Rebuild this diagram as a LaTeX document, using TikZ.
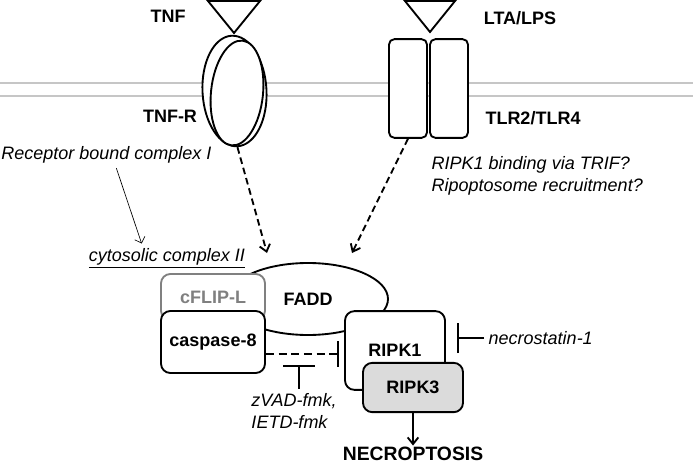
\documentclass[tikz,border=0pt]{standalone}
\usepackage{fontspec}
\setmainfont{Liberation Sans}
\usetikzlibrary{arrows.meta,shapes.geometric}
\begin{document}
\begin{tikzpicture}[x=0.75pt,y=-0.75pt,
  every node/.style={font=\fontsize{13.5}{16.5}\selectfont},
  lbl/.style={font=\fontsize{13.5}{16.5}\selectfont\bfseries},
  note/.style={font=\fontsize{13.5}{16.5}\selectfont\itshape},
  box/.style={draw,line width=1.4pt,rounded corners=7pt,fill=white,inner sep=0pt,font=\fontsize{13.5}{16.5}\selectfont\bfseries},
  rec/.style={draw,ellipse,line width=1.4pt,fill=white,inner sep=0pt},
  mem/.style={draw=gray!45,line width=1.5pt},
  dsh/.style={line width=1.4pt,dash pattern=on 5pt off 3pt,-{Straight Barb[length=5pt,width=8pt]}},
  blk/.style={line width=1.4pt}]
\useasboundingbox (0,0) rectangle (693,464);
% membrane
\draw[mem] (0,83) -- (693,83);
\draw[mem] (0,96) -- (693,96);
% ligands
\draw[blk,fill=white] (208,1) -- (260,1) -- (234,33) -- cycle;
\draw[blk,fill=white] (405,1) -- (455,1) -- (430,32) -- cycle;
\node[lbl] (tnf) at (168,16) {TNF};
\node[lbl] (lta) at (520,18) {LTA/LPS};
% receptors
\node[rec,minimum width=48pt,minimum height=83pt,rotate=3] (tnfr) at (234.5,91) {};
\node[rec,minimum width=39pt,minimum height=79pt,rotate=-6] (tnfr2) at (237,93) {};
\node[lbl] (tnfrlbl) at (170,116) {TNF-R};
\node[box,rounded corners=4pt,minimum width=28.5pt,minimum height=74pt] (tlr2) at (408,88.5) {};
\node[box,rounded corners=4pt,minimum width=28.5pt,minimum height=74pt] (tlr4) at (449,88.5) {};
\node[lbl] (tlr) at (533,118) {TLR2/TLR4};
% notes
\node[note,inner xsep=0pt,anchor=west] (rbc) at (1,155) {Receptor bound complex I};
\node[note,align=left,anchor=west] (trif) at (427,176) {RIPK1 binding via TRIF?\\Ripoptosome recruitment?};
\node[note] (cyto) at (167,258) {\underline{cytosolic complex II}};
% complex II
\node[rec,minimum width=120pt,minimum height=54pt,font=\fontsize{13.5}{16.5}\selectfont\bfseries] (fadd) at (308,299) {FADD};
\node[box,draw=gray,text=gray,minimum width=78pt,minimum height=34.5pt] (cflip) at (213,297) {cFLIP-L};
\node[box,minimum width=78pt,minimum height=46.5pt] (casp) at (213,342) {caspase-8};
\node[box,minimum width=75pt,minimum height=59pt] (ripk1) at (395,350.5) {RIPK1};
\node[box,fill=gray!28,minimum width=75pt,minimum height=37pt] (ripk3) at (413,387.5) {RIPK3};
\node[lbl,font=\fontsize{14.5}{17}\selectfont\bfseries,inner sep=1pt] (necro) at (413,454) {NECROPTOSIS};
% inhibitors
\node[note,align=left] (zvad) at (294,411) {zVAD-fmk,\\IETD-fmk};
\node[note,anchor=west] (nec1) at (484,338) {necrostatin-1};
\coordinate (fin1) at (267,253);
\coordinate (fin2) at (352,253);
\coordinate (cbar) at (339,354);
\coordinate (zbar) at (299,365);
\coordinate (nbar) at (457,338);
% connectors
\draw[dsh] (tnfr.south) -- (fin1);
\draw[dsh] (tlr2.south) -- (fin2);
\draw[line width=0.5pt,-{Straight Barb[length=4pt]}] ([xshift=7.5pt]rbc.south) -- ([xshift=-19pt]cyto.north);
\draw[blk,dash pattern=on 6pt off 3.5pt,-{Bar[width=19pt]}] ([yshift=-9pt]casp.east) -- (cbar);
\draw[blk,-{Bar[width=24pt]}] (zvad.north -| zbar) -- (zbar);
\draw[blk,-{Bar[width=22.5pt]}] (nec1.west) -- (nbar);
\draw[blk,-{Straight Barb[length=5pt,width=8pt]}] (ripk3) -- (necro);
\end{tikzpicture}
\end{document}
